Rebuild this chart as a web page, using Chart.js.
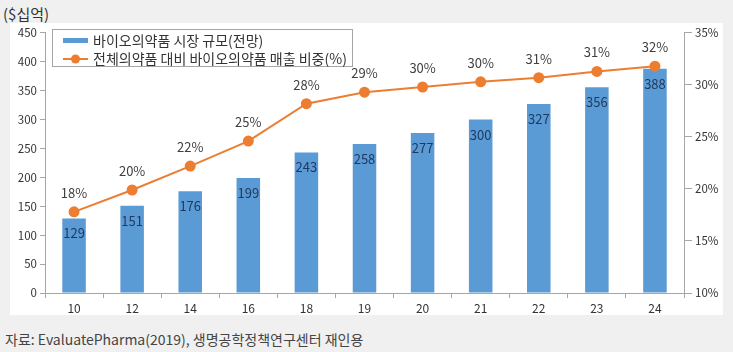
<!DOCTYPE html>
<html><head><meta charset="utf-8">
<script src="https://cdn.jsdelivr.net/npm/chart.js@4/dist/chart.umd.min.js"></script>
<style>
html,body{margin:0;padding:0;background:#f0f0f0;width:733px;height:352px;overflow:hidden;font-family:"Noto Sans CJK KR","Noto Sans",sans-serif;}
#title{position:absolute;left:3px;top:3px;font-size:15px;color:#333;}
#box{position:absolute;left:10px;top:23px;width:713px;height:292px;background:#fff;}
#foot{position:absolute;left:5px;top:329px;font-size:14px;color:#444;}
</style></head><body>
<div id="title">($십억)</div>
<div id="box"><canvas id="c" width="713" height="292"></canvas></div>
<div id="foot">자료: EvaluatePharma(2019), 생명공학정책연구센터 재인용</div>
<script>
const categories = ["10","12","14","16","18","19","20","21","22","23","24"];
const marketSize = [129,151,176,199,243,258,277,300,327,356,388];
const bioShare = [17.8,19.9,22.2,24.6,28.2,29.3,29.8,30.3,30.7,31.3,31.8];
const shareLabels = ["18%","20%","22%","25%","28%","29%","30%","30%","31%","31%","32%"];
const barName = "바이오의약품 시장 규모(전망)";
const lineName = "전체의약품 대비 바이오의약품 매출 비중(%)";
const FONT = '"Noto Sans CJK KR","Noto Sans",sans-serif';
const BLUE = '#5B9BD5', ORANGE = '#ED7D31', AXIS = '#a6a6a6';

const labelPlugin = {
  id:'labels',
  afterDatasetsDraw(chart){
    const ctx = chart.ctx;
    ctx.save();
    ctx.textAlign='center'; ctx.textBaseline='middle';
    ctx.font = '13px '+FONT;
    const bm = chart.getDatasetMeta(0);
    bm.data.forEach((el,i)=>{ ctx.fillStyle='#1f3a60'; ctx.fillText(String(marketSize[i]), el.x, el.y+15); });
    const lm = chart.getDatasetMeta(1);
    lm.data.forEach((el,i)=>{ ctx.fillStyle='#404040'; ctx.fillText(shareLabels[i], el.x, el.y-19); });
    ctx.restore();
  },
  afterDraw(chart){
    const ctx = chart.ctx;
    ctx.save();
    ctx.fillStyle='#fff'; ctx.strokeStyle='#a6a6a6'; ctx.lineWidth=1;
    ctx.fillRect(42.5,6.5,300,37); ctx.strokeRect(42.5,6.5,300,37);
    ctx.fillStyle=BLUE; ctx.fillRect(53,15,25,5);
    ctx.strokeStyle=ORANGE; ctx.lineWidth=2;
    ctx.beginPath(); ctx.moveTo(53,36); ctx.lineTo(78,36); ctx.stroke();
    ctx.fillStyle=ORANGE; ctx.beginPath(); ctx.arc(65.5,36,4.5,0,Math.PI*2); ctx.fill();
    ctx.fillStyle='#333'; ctx.font='14px '+FONT; ctx.textAlign='left'; ctx.textBaseline='middle';
    ctx.fillText(barName, 83, 17.5);
    ctx.fillText(lineName, 83, 36);
    ctx.restore();
  }
};

new Chart(document.getElementById('c'), {
  data:{
    labels: categories,
    datasets:[
      {type:'bar', label:barName, data:marketSize, backgroundColor:BLUE, yAxisID:'y', categoryPercentage:1, barPercentage:0.405, order:2},
      {type:'line', label:lineName, data:bioShare, borderColor:ORANGE, backgroundColor:ORANGE, borderWidth:2, pointRadius:4.5, pointHoverRadius:4.5, yAxisID:'y1', order:1, tension:0}
    ]
  },
  options:{
    responsive:false, animation:false,
    layout:{padding:{top:8,left:0,right:0,bottom:0}},
    plugins:{legend:{display:false}, tooltip:{enabled:false}},
    scales:{
      x:{
        grid:{drawOnChartArea:false, offset:true, tickLength:5, color:AXIS},
        border:{color:AXIS},
        ticks:{font:{family:FONT,size:12}, color:'#333', padding:3},
        afterFit(s){ s.height=22; }
      },
      y:{
        position:'left', min:0, max:450,
        ticks:{stepSize:50, font:{family:FONT,size:11.5}, color:'#333', padding:3},
        grid:{drawOnChartArea:false, tickLength:5, color:AXIS},
        border:{color:AXIS},
        afterFit(s){ s.width=35; }
      },
      y1:{
        position:'right', min:10, max:35,
        ticks:{stepSize:5, font:{family:FONT,size:11.5}, color:'#333', padding:3, callback:v=>v+'%'},
        grid:{drawOnChartArea:false, tickLength:8, color:AXIS},
        border:{color:AXIS},
        afterFit(s){ s.width=39; }
      }
    }
  },
  plugins:[labelPlugin]
});
</script>
</body></html>
